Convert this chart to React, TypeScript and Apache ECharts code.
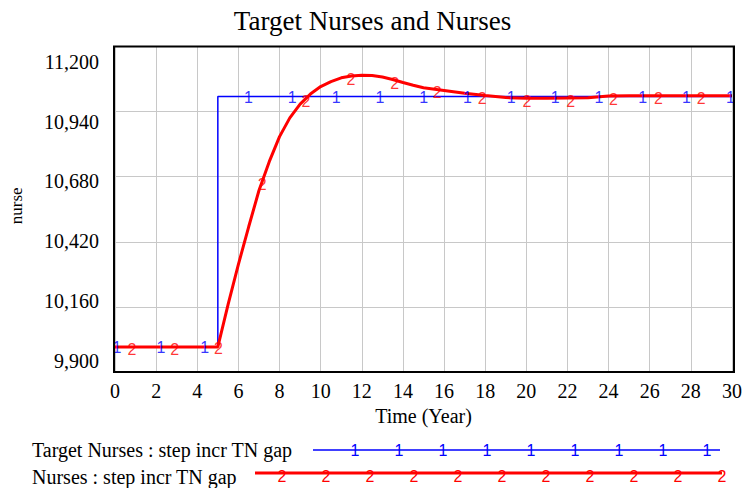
import React, { useEffect, useRef } from "react";
import * as echarts from "echarts";

// ---- data ----
const targetYears = [0, 5, 5, 30];
const targetNurses = [10000, 10000, 11000, 11000];

const nursesYears = [
  0, 1, 2, 3, 4, 5, 5.5, 6, 6.5, 7, 7.5, 8, 8.5, 9, 9.5, 10, 10.5, 11, 11.5, 12,
  12.5, 13, 13.5, 14, 14.5, 15, 16, 17, 18, 19, 20, 21, 22, 23, 24, 25, 26, 27,
  28, 29, 30,
];
const nursesValues = [
  10000, 10000, 10000, 10000, 10000, 10000, 10170, 10330, 10480, 10625, 10740,
  10840, 10915, 10970, 11010, 11040, 11060, 11075, 11082, 11085, 11084, 11078,
  11068, 11056, 11045, 11035, 11024, 11013, 11004, 10996, 10993, 10993, 10994,
  10995, 11002, 11003, 11003, 11003, 11003, 11003, 11003,
];

// line-identifier marks ("1" / "2") along each line
const targetMarkYears = [
  0.1, 2.23, 4.36, 6.49, 8.62, 10.75, 12.88, 15.01, 17.14, 19.27, 21.4, 23.53,
  25.66, 27.79, 29.92,
];
const targetMarkValues = [
  10000, 10000, 10000, 11000, 11000, 11000, 11000, 11000, 11000, 11000, 11000,
  11000, 11000, 11000, 11000,
];
const nursesMarkYears = [
  0.82, 2.9, 5.03, 7.16, 9.29, 11.47, 13.6, 15.67, 17.85, 20.03, 22.16, 24.24,
  26.42, 28.5,
];
const nursesMarkValues = [
  10000, 10000, 10005, 10662, 10993, 11082, 11066, 11028, 11005, 10993, 10994,
  11002, 11003, 11003,
];

const xTicks = { min: 0, max: 30, interval: 2 };
const yTicks = { min: 9900, max: 11200, interval: 260 };

const title = "Target Nurses and Nurses";
const xName = "Time (Year)";
const yName = "nurse";
const legendNames = [
  "Target Nurses : step incr TN gap",
  "Nurses : step incr TN gap",
];

const BLUE = "#0000ff";
const RED = "#ff0000";
const SERIF = "Liberation Serif";
const SANS = "Liberation Sans";
const MARK_SIZE = 16;

const zip = (xs: number[], ys: number[]) => xs.map((x, i) => [x, ys[i]]);

export default function App() {
  const ref = useRef<HTMLDivElement>(null);

  useEffect(() => {
    if (!ref.current) return;
    const chart = echarts.init(ref.current, undefined, { renderer: "svg" });

    const gridL = 114;
    const gridT = 46.5;
    const gridW = 620;
    const gridH = 325.5;

    const legendGraphics: any[] = [];
    // row 1
    legendGraphics.push({
      type: "text",
      x: 32,
      y: 450,
      style: {
        text: legendNames[0],
        fontFamily: SERIF,
        fontSize: 20,
        fill: "#000",
        align: "left",
        verticalAlign: "middle",
      },
    });
    legendGraphics.push({
      type: "line",
      shape: { x1: 313, y1: 450, x2: 720, y2: 450 },
      style: { stroke: BLUE, lineWidth: 1.5 },
    });
    for (let k = 0; k < 9; k++) {
      legendGraphics.push({
        type: "text",
        x: 355 + 44 * k,
        y: 450,
        style: {
          text: "1",
          fontFamily: SANS,
          fontSize: MARK_SIZE,
          fill: BLUE,
          align: "center",
          verticalAlign: "middle",
        },
      });
    }
    // row 2
    legendGraphics.push({
      type: "text",
      x: 32,
      y: 477,
      style: {
        text: legendNames[1],
        fontFamily: SERIF,
        fontSize: 20,
        fill: "#000",
        align: "left",
        verticalAlign: "middle",
      },
    });
    legendGraphics.push({
      type: "line",
      shape: { x1: 255, y1: 473, x2: 722, y2: 473 },
      style: { stroke: RED, lineWidth: 3 },
    });
    for (let k = 0; k < 11; k++) {
      legendGraphics.push({
        type: "text",
        x: 282 + 44 * k,
        y: 476,
        style: {
          text: "2",
          fontFamily: SANS,
          fontSize: MARK_SIZE,
          fill: RED,
          align: "center",
          verticalAlign: "middle",
        },
      });
    }

    const markLabel = (txt: string, color: string, dy: number) => ({
      show: true,
      position: "inside",
      formatter: txt,
      color,
      fontFamily: SANS,
      fontSize: MARK_SIZE,
      offset: [0, dy],
    });

    const option: any = {
      animation: false,
      backgroundColor: "#fff",
      title: {
        text: title,
        left: "center",
        top: 2,
        textStyle: {
          fontFamily: SERIF,
          fontSize: 27,
          fontWeight: "normal",
          color: "#000",
        },
      },
      grid: [
        { left: gridL, top: gridT, width: gridW, height: gridH, show: false },
        // grid used only for the (compressed) y tick labels, as in the reference
        { left: gridL, top: 61.7, width: gridW, height: 299, show: false },
      ],
      xAxis: [
        {
          type: "value",
          gridIndex: 0,
          min: xTicks.min,
          max: xTicks.max,
          interval: xTicks.interval,
          axisLine: { show: false },
          axisTick: { show: false },
          splitLine: { show: true, lineStyle: { color: "#c8c8c8", width: 1 } },
          axisLabel: {
            fontFamily: SERIF,
            fontSize: 20,
            color: "#000",
            margin: 9,
          },
          name: xName,
          nameLocation: "middle",
          nameGap: 31,
          nameTextStyle: { fontFamily: SERIF, fontSize: 20, color: "#000" },
        },
        {
          type: "value",
          gridIndex: 1,
          min: xTicks.min,
          max: xTicks.max,
          show: false,
        },
      ],
      yAxis: [
        {
          type: "value",
          gridIndex: 0,
          min: yTicks.min,
          max: yTicks.max,
          interval: yTicks.interval,
          axisLine: { show: false },
          axisTick: { show: false },
          axisLabel: { show: false },
          splitLine: { show: true, lineStyle: { color: "#c8c8c8", width: 1 } },
          name: yName,
          nameLocation: "middle",
          nameRotate: 90,
          nameGap: 90,
          nameTextStyle: {
            fontFamily: SERIF,
            fontSize: 17,
            color: "#000",
            padding: [0, 0, 0, 7],
          },
        },
        {
          type: "value",
          gridIndex: 1,
          min: yTicks.min,
          max: yTicks.max,
          interval: yTicks.interval,
          axisLine: { show: false },
          axisTick: { show: false },
          splitLine: { show: false },
          axisLabel: {
            fontFamily: SERIF,
            fontSize: 20,
            color: "#000",
            margin: 15,
            formatter: (v: number) => v.toLocaleString("en-US"),
          },
        },
      ],
      series: [
        {
          name: legendNames[0],
          type: "line",
          xAxisIndex: 0,
          yAxisIndex: 0,
          data: zip(targetYears, targetNurses),
          showSymbol: false,
          lineStyle: { color: BLUE, width: 1.5 },
          itemStyle: { color: BLUE },
          z: 2,
        },
        {
          name: legendNames[1],
          type: "line",
          xAxisIndex: 0,
          yAxisIndex: 0,
          data: zip(nursesYears, nursesValues),
          showSymbol: false,
          lineStyle: { color: RED, width: 3 },
          itemStyle: { color: RED },
          z: 3,
        },
        {
          type: "scatter",
          xAxisIndex: 0,
          yAxisIndex: 0,
          data: zip(targetMarkYears, targetMarkValues),
          symbolSize: 1,
          itemStyle: { color: "rgba(0,0,0,0)" },
          label: markLabel("1", BLUE, 1),
          z: 4,
        },
        {
          type: "scatter",
          xAxisIndex: 0,
          yAxisIndex: 0,
          data: zip(nursesMarkYears, nursesMarkValues),
          symbolSize: 1,
          itemStyle: { color: "rgba(0,0,0,0)" },
          label: markLabel("2", RED, 3),
          z: 5,
        },
      ],
      graphic: [
        {
          type: "rect",
          z: 10,
          shape: { x: gridL, y: gridT, width: gridW, height: gridH },
          style: { fill: "none", stroke: "#000", lineWidth: 2 },
          silent: true,
        },
        ...legendGraphics,
      ],
    };

    chart.setOption(option);
    return () => chart.dispose();
  }, []);

  return (
    <div
      ref={ref}
      style={{
        position: "fixed",
        left: 0,
        top: 0,
        width: 745,
        height: 488,
        background: "#fff",
      }}
    />
  );
}
